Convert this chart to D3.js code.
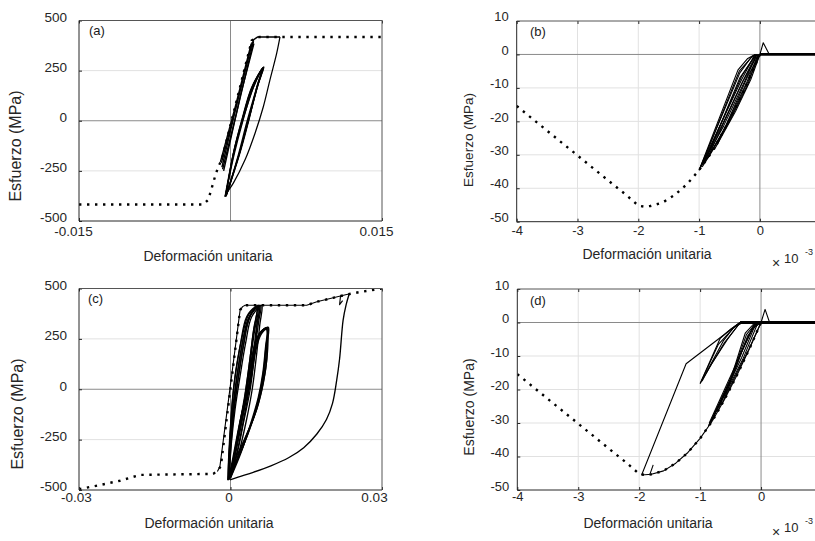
<!DOCTYPE html>
<html><head><meta charset="utf-8">
<script src="https://cdn.jsdelivr.net/npm/d3@7"></script>
<style>
body{margin:0;background:#fff}
svg{display:block}
text{font-family:"Liberation Sans",Arial,Helvetica,sans-serif}
</style>
</head><body>
<svg id="chart" width="815" height="541"></svg>
<script>
// ---------------- tick values / labels ----------------
const steelYTicks = [-500, -250, 0, 250, 500];
const aXTicks = [-0.015, 0.015];
const aXTickLabels = ["-0.015", "0.015"];
const cXTicks = [-0.03, 0, 0.03];
const cXTickLabels = ["-0.03", "0", "0.03"];
const concXTicks = [-4, -3, -2, -1, 0];
const concYTicks = [-50, -40, -30, -20, -10, 0, 10];
const panelTags = ["(a)", "(b)", "(c)", "(d)"];
const xTitle = "Deformación unitaria";
const yTitle = "Esfuerzo (MPa)";

// ---------------- panel (a): steel, [strain, stress MPa] ----------------
const aEnvelope = [[-0.015,-418],[-0.0027,-418],[-0.0022,-394],[-0.00186,-336],[-0.00153,-278],[-0.00121,-229],[-0.00087,-195],[0.0021,400],[0.0025,414],[0.0029,418],[0.015,418]];
const aUpper = [
  [[-0.00100,-205],[0.0005,75],[0.00205,385]],
  [[0.00215,392],[0.0008,120],[-0.00085,-232]],
  [[-0.00078,-242],[0.0007,60],[0.00228,396]],
  [[0.00232,385],[0.0010,130],[-0.00068,-250]],
  [[-0.00090,-210],[0.0006,80],[0.0020,360],[0.0023,405],[0.0027,418],[0.0049,418]]
];
const aLower = [
  [[-0.00045,-378],[0.00028,-163],[0.0011,0],[0.0021,167],[0.0033,269],[0.00265,167],[0.00176,0],[0.00087,-163],[-0.0004,-370]],
  [[-0.0005,-372],[0.0004,-160],[0.0012,-5],[0.0022,160],[0.0031,255],[0.0025,150],[0.0016,-10],[0.0008,-165],[-0.00035,-365]],
  [[-0.00055,-380],[0.00035,-150],[0.00125,10],[0.0023,170],[0.0032,262],[0.0027,175],[0.0018,5],[0.0009,-160],[-0.0005,-375]],
  [[-0.0005,-376],[0.0003,-170],[0.00105,-20],[0.0020,150],[0.0030,250],[0.0033,266],[0.0027,185],[0.0019,20],[0.0010,-150],[-0.0004,-372]],
  [[-0.00048,-374],[0.00032,-155],[0.00115,5],[0.00215,165],[0.0032,264],[0.0026,160],[0.0017,-5],[0.00085,-170],[-0.00045,-376]]
];
const aOuter = [[0.0049,418],[0.00457,336],[0.0039,203],[0.00325,70],[0.00243,-62],[0.00144,-195],[0.00028,-311],[-0.00038,-361],[-0.00055,-378]];

// ---------------- panel (b): concrete, [strain x1e-3, stress MPa] ----------------
const bEnvelope = [[-4,-15.4],[-3.5,-22.8],[-3,-30.2],[-2.5,-37.6],[-2.2,-42],[-2.0,-45.2],[-1.9,-45.5],[-1.8,-45.3],[-1.6,-44.3],[-1.4,-42.0],[-1.2,-38.8],[-1.0,-34.6],[-0.8,-29.4],[-0.6,-23.0],[-0.4,-15.9],[-0.2,-8.2],[0,0]];
const bLoops = [
  [[-1.0,-34.6],[-0.36,-4.6],[-0.2,-1.2],[-0.08,0]],
  [[-0.08,0],[-0.3,-7.5],[-0.65,-21],[-0.98,-33.8]],
  [[-1.0,-34.6],[-0.33,-5.5],[-0.15,-1],[-0.05,0]],
  [[-0.05,0],[-0.25,-8],[-0.6,-21.5],[-0.95,-33]],
  [[-0.93,-32.8],[-0.3,-6.5],[-0.1,-0.8],[-0.02,0]],
  [[-0.02,0],[-0.2,-9],[-0.5,-20],[-0.88,-31.5]],
  [[-0.85,-30.5],[-0.28,-8],[-0.08,-1.5],[0,0]],
  [[0,0],[-0.15,-7.5],[-0.4,-17],[-0.75,-28.5]],
  [[-0.7,-27],[-0.2,-6.5],[0,0]],
  [[-0.98,-34],[-0.34,-5],[-0.12,-0.5],[-0.06,0]],
  [[-0.06,0],[-0.28,-8],[-0.62,-21],[-0.97,-33.5]],
  [[-0.9,-32],[-0.33,-7],[-0.12,-1.5],[-0.03,0]],
  [[-0.03,0],[-0.22,-8.5],[-0.55,-21],[-0.86,-31]],
  [[-0.95,-33.6],[-0.8,-29.4],[-0.6,-23.0],[-0.4,-15.9],[-0.2,-8.2],[0,0]]
];
const bPeak = [[0,0],[0.055,3.5],[0.155,0]];
const bTail = [[0,0],[1,0]];

// ---------------- panel (c): steel, [strain, stress MPa] ----------------
const cEnvelope = [[-0.03,-496],[-0.0258,-475],[-0.0219,-454],[-0.0179,-425],[-0.0034,-420],[-0.0024,-400],[-0.0019,-380],[0.0019,393],[0.0024,410],[0.0029,417],[0.0151,417],[0.0171,434],[0.023,470],[0.0257,483],[0.03,500]];
const cLeft = [[-0.0026,-408],[-0.0021,-384],[0.0019,393],[0.0024,410],[0.0029,417],[0.0151,417],[0.0171,434],[0.023,470],[0.0235,473]];
const cOuter = [[0.0235,473],[0.0229,420],[0.0223,343],[0.0216,150],[0.021,40],[0.0202,-70],[0.019,-150],[0.0171,-222],[0.0145,-290],[0.0115,-340],[0.008,-380],[0.0045,-412],[0.0015,-436],[-0.0001,-450]];
const cHook = [[0.0218,466],[0.0216,420],[0.0222,440]];
const cGroup1 = [
  [[-0.0004,-450],[-0.0003,-380],[0.0000,-200],[0.0006,0],[0.0019,211],[0.0032,360],[0.0050,410],[0.0058,415],[0.0053,330],[0.0049,211],[0.0039,0],[0.0027,-150],[0.0012,-330],[-0.0002,-445]],
  [[-0.0004,-448],[-0.0001,-300],[0.0004,-150],[0.0012,0],[0.0025,211],[0.0038,360],[0.0055,412],[0.0047,280],[0.0040,150],[0.0032,0],[0.0020,-170],[0.0007,-350],[-0.0003,-447]],
  [[-0.0003,-446],[0.0002,-260],[0.0009,-100],[0.0018,50],[0.0030,230],[0.0042,360],[0.0062,416],[0.0058,320],[0.0052,180],[0.0043,0],[0.0031,-160],[0.0015,-330],[0.0000,-440]],
  [[-0.0005,-452],[-0.0003,-330],[0.0002,-150],[0.0009,0],[0.0021,190],[0.0035,350],[0.0052,405],[0.0044,260],[0.0036,100],[0.0026,-80],[0.0012,-280],[-0.0003,-440]],
  [[-0.0004,-449],[-0.0002,-340],[0.0002,-190],[0.0008,-40],[0.0015,100],[0.0027,270],[0.0045,390],[0.0057,414],[0.0051,300],[0.0045,170],[0.0036,20],[0.0024,-140],[0.0010,-310],[-0.0003,-446]],
  [[-0.0003,-447],[0.0000,-310],[0.0006,-130],[0.0014,30],[0.0026,220],[0.0040,370],[0.0060,415],[0.0056,340],[0.0050,230],[0.0041,60],[0.0029,-110],[0.0014,-300],[-0.0001,-442]],
  [[-0.0005,-451],[-0.0004,-360],[-0.0001,-220],[0.0004,-50],[0.0011,100],[0.0023,260],[0.0036,370],[0.0053,410],[0.0046,300],[0.0038,140],[0.0029,-20],[0.0017,-190],[0.0004,-370],[-0.0004,-449]]
];
const cGroup2 = [
  [[-0.0003,-445],[0.0008,-330],[0.0023,-120],[0.0036,4],[0.0045,178],[0.0054,260],[0.0067,300],[0.0075,308],[0.0073,230],[0.0071,128],[0.0062,0],[0.0049,-120],[0.0029,-241],[0.0006,-368],[-0.0003,-445]],
  [[-0.0002,-440],[0.0010,-300],[0.0026,-100],[0.0040,40],[0.0050,190],[0.0060,270],[0.0072,300],[0.0069,200],[0.0064,80],[0.0055,-40],[0.0040,-170],[0.0020,-320],[0.0000,-440]],
  [[-0.0003,-446],[0.0006,-340],[0.0020,-150],[0.0032,-10],[0.0042,150],[0.0052,250],[0.0064,295],[0.0073,304],[0.0070,210],[0.0066,100],[0.0058,-20],[0.0044,-150],[0.0024,-290],[0.0004,-400],[-0.0003,-446]],
  [[-0.0004,-447],[0.0004,-350],[0.0017,-180],[0.0030,-30],[0.0040,120],[0.0050,240],[0.0062,290],[0.0074,306],[0.0072,220],[0.0068,110],[0.0060,-10],[0.0046,-140],[0.0027,-270],[0.0008,-380],[-0.0004,-447]],
  [[-0.0002,-443],[0.0012,-290],[0.0028,-90],[0.0038,30],[0.0047,170],[0.0057,265],[0.0070,302],[0.0074,250],[0.0072,150],[0.0065,30],[0.0052,-100],[0.0033,-220],[0.0012,-350],[-0.0002,-443]]
];

// ---------------- panel (d): concrete, [strain x1e-3, stress MPa] ----------------
const dEnvelope = [[-4,-15.4],[-3.5,-22.8],[-3,-30.2],[-2.5,-37.6],[-2.2,-42],[-2.0,-45.2],[-1.9,-45.5],[-1.8,-45.3],[-1.6,-44.3],[-1.4,-42.0],[-1.2,-38.8],[-1.0,-34.6],[-0.8,-29.4],[-0.6,-23.0],[-0.4,-15.9],[-0.2,-8.2],[0,0]];
const dEnvSolid = [[-1.96,-45.5],[-1.8,-45.3],[-1.6,-44.3],[-1.4,-42.0],[-1.2,-38.8],[-1.0,-34.6],[-0.8,-29.4],[-0.6,-23.0],[-0.4,-15.9],[-0.2,-8.2],[0,0]];
const dBigLoop = [[-1.96,-45.5],[-1.23,-12.3],[-0.345,0],[0,0]];
const dHook = [[-1.82,-45.1],[-1.77,-42.5]];
const dMid = [
  [[-1.0,-18.2],[-0.67,-4.7],[-0.5,-2],[-0.345,0]],
  [[-0.345,0],[-0.55,-5],[-0.8,-12],[-1.0,-18.2]],
  [[-0.98,-17.5],[-0.7,-6.5],[-0.42,-1],[-0.34,0]],
  [[-0.34,0],[-0.6,-6],[-0.85,-13.5],[-0.97,-17.5]],
  [[-0.9,-15],[-0.62,-5.5],[-0.45,-1.5],[-0.3,0]]
];
const dRight = [
  [[-0.865,-31],[-0.5,-17],[-0.26,-3.2],[-0.1,0]],
  [[-0.1,0],[-0.35,-10],[-0.6,-20],[-0.85,-30]],
  [[-0.8,-29],[-0.45,-15],[-0.22,-4],[-0.05,0]],
  [[-0.05,0],[-0.3,-11],[-0.55,-20],[-0.78,-28]],
  [[-0.7,-26],[-0.35,-10],[-0.15,-2],[0,0]],
  [[0,0],[-0.2,-8],[-0.45,-17],[-0.65,-24.5]],
  [[-0.84,-30.5],[-0.48,-16],[-0.24,-3.6],[-0.08,0]],
  [[-0.08,0],[-0.32,-10.5],[-0.58,-20.5],[-0.82,-29.5]],
  [[-0.6,-22.5],[-0.3,-8],[-0.12,-1],[-0.02,0]]
];
const dPeak = [[0,0],[0.066,3.9],[0.14,0]];
const dTail = [[-0.345,0],[1,0]];

// ---------------- drawing ----------------
const svg = d3.select("#chart");
const FONT = '"Liberation Sans",Arial,Helvetica,sans-serif';
let clipN = 0;

function drawPanel(p) {
  const x = d3.scaleLinear().domain(p.xDomain).range(p.xRange);
  const y = d3.scaleLinear().domain(p.yDomain).range(p.yRange);
  const L = p.xRange[0], R = p.xRange[1], B = p.yRange[0], T = p.yRange[1];
  const g = svg.append("g");
  const id = "clip" + (clipN++);
  svg.append("clipPath").attr("id", id).append("rect")
    .attr("x", L).attr("y", T).attr("width", R - L).attr("height", B - T);

  g.selectAll(null).data(p.xGrid).join("line")
    .attr("x1", d => x(d)).attr("x2", d => x(d)).attr("y1", T).attr("y2", B)
    .attr("stroke", "#e1e1e1").attr("stroke-width", 1);
  g.selectAll(null).data(p.yGrid).join("line")
    .attr("x1", L).attr("x2", R).attr("y1", d => y(d)).attr("y2", d => y(d))
    .attr("stroke", "#e1e1e1").attr("stroke-width", 1);
  g.append("line").attr("x1", x(0)).attr("x2", x(0)).attr("y1", T).attr("y2", B)
    .attr("stroke", "#8a8a8a").attr("stroke-width", 1);
  g.append("line").attr("x1", L).attr("x2", R).attr("y1", y(0)).attr("y2", y(0))
    .attr("stroke", "#8a8a8a").attr("stroke-width", 1);

  const line = d3.line().x(d => x(d[0])).y(d => y(d[1]));
  const smooth = d3.line().x(d => x(d[0])).y(d => y(d[1])).curve(d3.curveCatmullRom.alpha(0.5));
  const pg = g.append("g").attr("clip-path", `url(#${id})`);
  p.dotted.forEach(pts => pg.append("path").attr("d", line(pts)).attr("fill", "none")
    .attr("stroke", "#000").attr("stroke-width", 2.4).attr("stroke-dasharray", "2.4,5.6"));
  p.solid.forEach(pts => pg.append("path").attr("d", line(pts)).attr("fill", "none")
    .attr("stroke", "#000").attr("stroke-width", p.solidW || 1.1).attr("stroke-linejoin", "round"));
  (p.smooth || []).forEach(pts => pg.append("path").attr("d", smooth(pts)).attr("fill", "none")
    .attr("stroke", "#000").attr("stroke-width", p.smoothW || 1.2).attr("stroke-linejoin", "round"));
  (p.thick || []).forEach(pts => pg.append("path").attr("d", line(pts)).attr("fill", "none")
    .attr("stroke", "#000").attr("stroke-width", 2.8));

  const ax = g.append("g").attr("transform", `translate(0,${B})`)
    .call(d3.axisBottom(x).tickValues(p.xTicks).tickFormat((d, i) => p.xLabels[i])
      .tickSizeInner(-3).tickSizeOuter(0).tickPadding(p.xPad));
  const ay = g.append("g").attr("transform", `translate(${L},0)`)
    .call(d3.axisLeft(y).tickValues(p.yTicks).tickFormat(d => String(d))
      .tickSizeInner(-3).tickSizeOuter(0).tickPadding(p.yPad));
  const at = g.append("g").attr("transform", `translate(0,${T})`)
    .call(d3.axisTop(x).tickValues(p.xTicks).tickFormat("").tickSizeInner(-3).tickSizeOuter(0));
  [ax, ay, at].forEach(a => {
    a.select(".domain").remove();
    a.attr("font-family", FONT).attr("font-size", p.tickFont).attr("color", "#262626");
    a.selectAll(".tick line").attr("stroke", "#262626");
  });
  ay.selectAll(".tick text").attr("y", p.yShift);
  if (p.xDx) ax.selectAll(".tick text").attr("dx", (d, i) => p.xDx[i]);

  g.append("line").attr("x1", L).attr("x2", R).attr("y1", T).attr("y2", T).attr("stroke", "#555");
  g.append("line").attr("x1", R).attr("x2", R).attr("y1", T).attr("y2", B).attr("stroke", "#555");
  g.append("line").attr("x1", L).attr("x2", R).attr("y1", B).attr("y2", B).attr("stroke", "#262626");
  g.append("line").attr("x1", L).attr("x2", L).attr("y1", T).attr("y2", B).attr("stroke", "#262626");

  g.append("text").attr("x", p.tag[1]).attr("y", p.tag[2]).attr("font-size", 13)
    .attr("fill", "#1a1a1a").text(p.tag[0]);
  g.append("text").attr("x", p.xTitlePos[0]).attr("y", p.xTitlePos[1]).attr("text-anchor", "middle")
    .attr("font-size", p.xTitleFont).attr("fill", "#262626").text(xTitle);
  g.append("text").attr("transform", `translate(${p.yTitlePos[0]},${p.yTitlePos[1]}) rotate(-90)`)
    .attr("text-anchor", "middle").attr("font-size", p.yTitleFont).attr("fill", "#262626").text(yTitle);
  if (p.exp) {
    const e = p.exp;
    g.append("text").attr("x", 772).attr("y", e).attr("font-size", 14).attr("fill", "#262626").text("×");
    g.append("text").attr("x", 784).attr("y", e - 5).attr("font-size", 13).attr("fill", "#262626").text("10");
    g.append("text").attr("x", 805).attr("y", e - 13).attr("font-size", 9).attr("fill", "#262626").text("-3");
  }
}

drawPanel({
  xDomain: [-0.015, 0.015], xRange: [79, 382], yDomain: [-500, 500], yRange: [221, 20.5],
  xTicks: aXTicks, xLabels: aXTickLabels, xDx: [-6, -6], yTicks: steelYTicks, xGrid: [], yGrid: [-250, 250],
  xPad: 5, yPad: 12, yShift: -3.5, tickFont: 13.5,
  dotted: [aEnvelope], solid: [...aUpper], solidW: 1.4, smooth: [...aLower, aOuter], smoothW: 1.25,
  tag: [panelTags[0], 89, 35], xTitlePos: [208, 261], xTitleFont: 14,
  yTitlePos: [21, 146], yTitleFont: 16
});
drawPanel({
  xDomain: [-4, 1], xRange: [516.7, 820.7], yDomain: [-50, 10], yRange: [221.7, 21],
  xTicks: concXTicks, xLabels: concXTicks.map(String), yTicks: concYTicks,
  xGrid: [-3, -2, -1], yGrid: [-40, -30, -20, -10],
  xPad: 4, yPad: 8, yShift: -4.5, tickFont: 13,
  dotted: [bEnvelope], solid: [...bLoops, bPeak], thick: [bTail],
  tag: [panelTags[1], 530, 36], xTitlePos: [647, 259], xTitleFont: 14,
  yTitlePos: [473, 140], yTitleFont: 13.5, exp: 268
});
drawPanel({
  xDomain: [-0.03, 0.03], xRange: [79, 382], yDomain: [-500, 500], yRange: [490, 288.5],
  xTicks: cXTicks, xLabels: cXTickLabels, xDx: [-3, -2, -8], yTicks: steelYTicks, xGrid: [], yGrid: [-250, 250],
  xPad: 2, yPad: 12, yShift: -3.5, tickFont: 13.5,
  dotted: [cEnvelope], solid: [cLeft, cHook], smooth: [cOuter, ...cGroup1, ...cGroup2], smoothW: 1.35,
  tag: [panelTags[2], 88, 303], xTitlePos: [209, 528], xTitleFont: 14,
  yTitlePos: [23, 414], yTitleFont: 16
});
drawPanel({
  xDomain: [-4, 1], xRange: [517.3, 822], yDomain: [-50, 10], yRange: [490, 289],
  xTicks: concXTicks, xLabels: concXTicks.map(String), yTicks: concYTicks,
  xGrid: [-3, -2, -1], yGrid: [-40, -30, -20, -10],
  xPad: 2, yPad: 8, yShift: -4, tickFont: 13,
  dotted: [dEnvelope], solid: [dEnvSolid, dBigLoop, dHook, ...dMid, ...dRight, dPeak], thick: [dTail],
  tag: [panelTags[3], 530, 305], xTitlePos: [648, 528], xTitleFont: 14,
  yTitlePos: [474, 407], yTitleFont: 14, exp: 536.5
});
</script>
</body></html>
